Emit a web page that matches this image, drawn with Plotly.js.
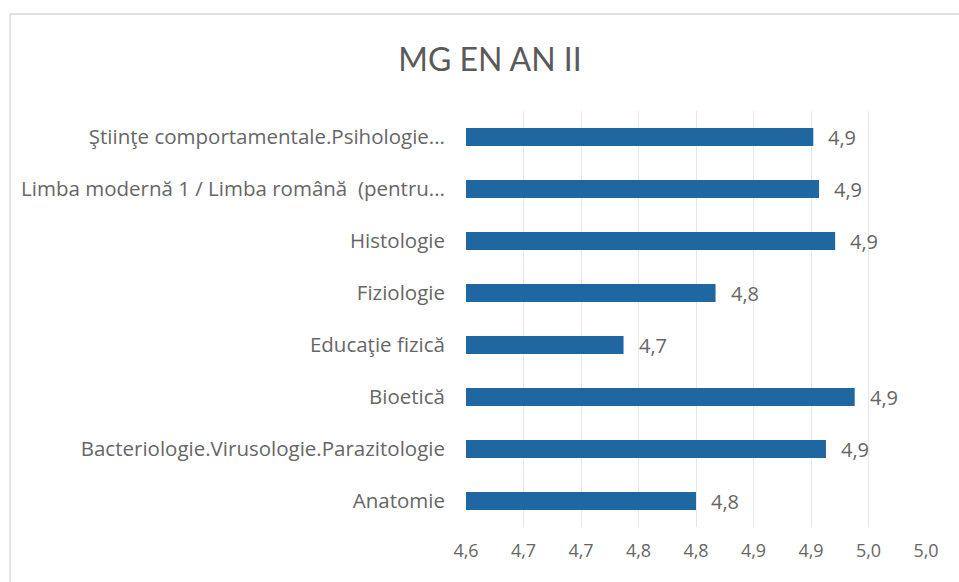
<!DOCTYPE html>
<html>
<head>
<meta charset="utf-8">
<script src="https://cdn.plot.ly/plotly-3.0.1.min.js"></script>
<style>html,body{margin:0;padding:0;background:#fff;}#chart{width:959px;height:582px;}</style>
</head>
<body>
<div id="chart"></div>
<script>
// Categories listed bottom to top (Plotly draws the first category at the bottom)
const categories = [
  "Anatomie",
  "Bacteriologie.Virusologie.Parazitologie",
  "Bioetică",
  "Educaţie fizică",
  "Fiziologie",
  "Histologie",
  "Limba modernă 1 / Limba română  (pentru...",
  "Ştiinţe comportamentale.Psihologie..."
];
const values = [4.80, 4.913, 4.938, 4.737, 4.817, 4.921, 4.907, 4.902];
const tickVals = [4.60, 4.65, 4.70, 4.75, 4.80, 4.85, 4.90, 4.95, 5.00];
const tickText = ["4,6", "4,7", "4,7", "4,8", "4,8", "4,9", "4,9", "5,0", "5,0"];
const chartTitle = "MG EN AN II";

const FONT = "'Open Sans', Lato, sans-serif";
const TFONT = "Lato, 'Open Sans', sans-serif";
const GREY = "#666666";
const W = 959, H = 582;
const L = 466, R = 926, T = 111, B = 527;

const trace = {
  type: "bar",
  orientation: "h",
  y: categories,
  x: values,
  base: 0,
  marker: { color: "#1f67a0" },
  hoverinfo: "x+y"
};

const annotations = values.map((v, i) => ({
  x: v, y: categories[i], xref: "x", yref: "y",
  text: v.toFixed(1).replace(".", ","),
  showarrow: false, xanchor: "left", xshift: 13,
  font: { family: FONT, size: 20, color: GREY }
}));

const px2x = p => (p - L) / (R - L);
const px2y = p => (B - p) / (B - T);

const layout = {
  width: W, height: H,
  margin: { l: L, r: W - R, t: T, b: H - B, pad: 0 },
  paper_bgcolor: "#ffffff",
  plot_bgcolor: "#ffffff",
  separators: ",.",
  showlegend: false,
  bargap: 0.65,
  title: {
    text: chartTitle,
    x: 490 / W, xref: "container", xanchor: "center",
    y: 1 - 60 / H, yref: "container", yanchor: "middle",
    font: { family: TFONT, size: 32, color: "#5a5a5a" }
  },
  xaxis: {
    range: [4.6, 5.0],
    tickvals: tickVals,
    ticktext: tickText,
    showgrid: true, gridcolor: "#e8e8e8", gridwidth: 1,
    zeroline: false, showline: false, ticks: "",
    ticklabelstandoff: 11,
    tickfont: { family: FONT, size: 18, color: GREY },
    fixedrange: true
  },
  yaxis: {
    type: "category",
    showgrid: false, zeroline: false, showline: false, ticks: "",
    ticklabelstandoff: 20,
    tickfont: { family: FONT, size: 20.5, color: GREY },
    automargin: false,
    fixedrange: true
  },
  annotations: annotations,
  shapes: [
    { type: "line", xref: "paper", yref: "paper",
      x0: px2x(10), x1: px2x(975), y0: px2y(14), y1: px2y(14),
      line: { color: "#d9d9d9", width: 1.5 } },
    { type: "line", xref: "paper", yref: "paper",
      x0: px2x(10), x1: px2x(10), y0: px2y(14), y1: px2y(600),
      line: { color: "#d9d9d9", width: 1.5 } }
  ]
};

Plotly.newPlot("chart", [trace], layout, { displayModeBar: false, staticPlot: true });
</script>
</body>
</html>
